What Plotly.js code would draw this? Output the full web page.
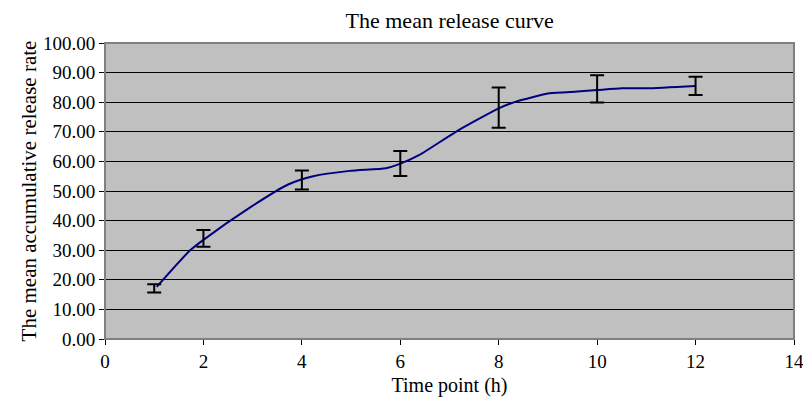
<!DOCTYPE html>
<html>
<head>
<meta charset="utf-8">
<script src="https://cdn.plot.ly/plotly-3.0.1.min.js"></script>
<style>html,body{margin:0;padding:0;background:#fff;}#chart{width:803px;height:397px;}</style>
</head>
<body>
<div id="chart"></div>
<script>
// Time points with error bars (h)
var timePoints = [1, 2, 4, 6, 8, 10, 12];
// Mean accumulative release rate at those points
var meanRelease = [17.1, 34.0, 53.7, 59.3, 78.2, 84.5, 85.5];
// Error bar half-widths
var errRelease = [1.4, 2.8, 3.2, 4.2, 6.8, 4.6, 3.1];

// Smoothed curve as drawn in the reference (vertices)
var curveX = [1.05, 1.72, 2.0, 2.98, 3.72, 4.23, 4.97, 5.71, 5.95, 6.39, 7.13, 8.0, 8.35, 9.03, 9.6, 10.0, 10.5, 11.0, 12.0];
var curveY = [17.6, 29.8, 33.5, 44.8, 52.2, 55.0, 56.8, 57.7, 58.9, 62.2, 70.0, 77.9, 80.2, 83.0, 83.6, 84.1, 84.7, 84.7, 85.5];

var fontFam = '"Liberation Serif", "Times New Roman", serif';

var traces = [
  {
    x: curveX, y: curveY, type: 'scatter', mode: 'lines',
    line: {color: '#000080', width: 2, shape: 'spline', smoothing: 0.6},
    hoverinfo: 'skip', showlegend: false
  },
  {
    x: timePoints, y: meanRelease, type: 'scatter', mode: 'markers',
    marker: {size: 1, color: 'rgba(0,0,0,0)'},
    error_y: {type: 'data', array: errRelease, visible: true, color: '#000000', thickness: 2, width: 7},
    showlegend: false
  }
];

var layout = {
  width: 803, height: 397,
  margin: {l: 105, r: 9, t: 43, b: 58, pad: 0},
  paper_bgcolor: '#ffffff',
  plot_bgcolor: '#c0c0c0',
  font: {family: fontFam, size: 19, color: '#000000'},
  title: {text: 'The mean release curve', font: {family: fontFam, size: 22, color: '#000'}, x: 0.56, xanchor: 'center', y: 0.95, yanchor: 'middle'},
  xaxis: {
    range: [0, 14], dtick: 2, tick0: 0, showgrid: false, zeroline: false,
    showline: true, linecolor: '#000', linewidth: 1, mirror: false,
    ticks: 'outside', ticklen: 5, tickcolor: '#000', tickwidth: 1,
    ticklabeloverflow: 'allow',
    tickfont: {family: fontFam, size: 19},
    title: {text: 'Time point (h)', font: {family: fontFam, size: 20, color: '#000'}, standoff: 8}
  },
  yaxis: {
    range: [0, 100], dtick: 10, tick0: 0, tickformat: '.2f',
    showgrid: true, gridcolor: '#000', gridwidth: 1, zeroline: false,
    showline: true, linecolor: '#000', linewidth: 1,
    ticks: 'outside', ticklen: 5, tickcolor: '#000', tickwidth: 1,
    ticklabeloverflow: 'allow',
    tickfont: {family: fontFam, size: 19},
    title: {text: 'The mean accumulative release rate', font: {family: fontFam, size: 21, color: '#000'}, standoff: 0}
  },
  shapes: [
    {type: 'rect', xref: 'paper', yref: 'paper', x0: 0, x1: 1, y0: 0, y1: 1, line: {color: '#808080', width: 2}, layer: 'above'}
  ]
};

Plotly.newPlot('chart', traces, layout, {displayModeBar: false, staticPlot: true});
</script>
</body>
</html>
